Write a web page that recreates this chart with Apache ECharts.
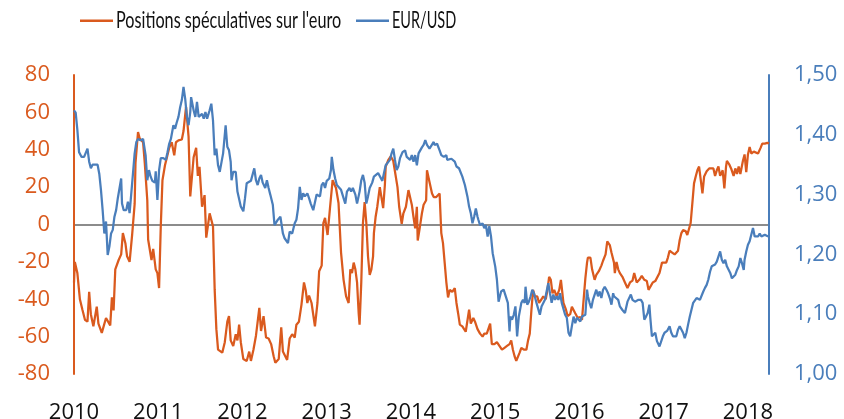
<!DOCTYPE html>
<html>
<head>
<meta charset="utf-8">
<script src="https://cdn.jsdelivr.net/npm/echarts@6/dist/echarts.min.js"></script>
<style>
  html, body { margin: 0; padding: 0; background: #ffffff; }
  #chart { width: 844px; height: 419px; }
</style>
</head>
<body>
<div id="chart"></div>
<script>
// Series names shown in the legend
const seriesNames = ["Positions spéculatives sur l'euro", "EUR/USD"];

// Time span of the horizontal axis, in fractional years
const yearStart = 2010;
const yearEnd = 2018.25;

// Left axis range (net speculative positions, thousands of contracts)
const positionsRange = [-80, 80, 20];
// Right axis range (EUR/USD rate)
const rateRange = [1.0, 1.5, 0.1];

// Net speculative positions on the euro: [year, value]
const positions = [
  [2010.00,-31],[2010.01,-20],[2010.04,-26],[2010.07,-40],[2010.10,-45.6],[2010.13,-51],[2010.16,-52],[2010.18,-36],
  [2010.20,-48],[2010.23,-54.5],[2010.27,-44],[2010.29,-53],[2010.33,-58],[2010.35,-59],[2010.38,-50],[2010.40,-51],
  [2010.43,-54],[2010.45,-39],[2010.47,-46],[2010.49,-24],[2010.53,-19],[2010.56,-16],[2010.58,-4.6],[2010.61,-10],
  [2010.63,-17],[2010.66,-20],[2010.69,-5.6],[2010.72,11],[2010.73,33],[2010.76,49.5],[2010.78,46],[2010.82,44],
  [2010.84,33],[2010.87,13],[2010.88,-8],[2010.90,-9],[2010.92,-19],[2010.94,-13],[2010.97,-24],[2010.99,-26],
  [2011.01,-34],[2011.03,-1],[2011.05,23.7],[2011.08,31.7],[2011.10,31],[2011.13,41],[2011.16,44],[2011.19,37],
  [2011.21,44],[2011.24,45],[2011.28,45.5],[2011.30,50],[2011.33,63],[2011.36,47],[2011.38,15],[2011.40,15.5],
  [2011.42,36],[2011.45,41],[2011.47,26],[2011.49,30.8],[2011.52,9.5],[2011.54,8.5],[2011.55,15.7],[2011.57,-7],
  [2011.61,6],[2011.65,-1],[2011.67,-35],[2011.69,-56],[2011.71,-67],[2011.76,-68.6],[2011.79,-63],[2011.82,-52],
  [2011.84,-49],[2011.86,-62],[2011.89,-65],[2011.92,-58.7],[2011.94,-62],[2011.96,-53.6],[2011.98,-63],[2012.01,-72],
  [2012.05,-73],[2012.08,-68],[2012.10,-73],[2012.13,-67],[2012.16,-59.5],[2012.18,-58.7],[2012.20,-44.6],[2012.22,-57],
  [2012.25,-49],[2012.28,-60.5],[2012.31,-61],[2012.34,-64],[2012.37,-70.5],[2012.39,-74],[2012.43,-72],[2012.46,-55],
  [2012.48,-68],[2012.50,-69],[2012.53,-72.5],[2012.56,-61],[2012.59,-58.7],[2012.62,-60.5],[2012.64,-53.6],[2012.67,-52],
  [2012.70,-43],[2012.73,-31],[2012.75,-35],[2012.77,-42],[2012.79,-38],[2012.82,-42],[2012.84,-43],[2012.86,-54.5],
  [2012.89,-42],[2012.91,-25],[2012.94,-22],[2012.96,0.8],[2012.98,3.5],[2013.01,-5.6],[2013.04,9.5],[2013.07,23.7],
  [2013.08,24.5],[2013.11,19.5],[2013.14,11.5],[2013.17,-15],[2013.20,-29.6],[2013.23,-38.5],[2013.26,-42],[2013.28,-24],
  [2013.30,-26],[2013.32,-20.4],[2013.34,-24],[2013.36,-31],[2013.38,-48],[2013.39,-53.6],[2013.41,-31],[2013.43,0.8],
  [2013.45,12],[2013.47,0.8],[2013.49,-17],[2013.51,-27],[2013.53,-24],[2013.55,-17],[2013.56,-4.6],[2013.58,4],
  [2013.60,9.5],[2013.63,20],[2013.65,21],[2013.67,8.8],[2013.69,21],[2013.70,31],[2013.73,34.4],[2013.76,36.5],
  [2013.79,34],[2013.81,35],[2013.84,20],[2013.86,9.5],[2013.89,0.3],[2013.91,6],[2013.94,9.5],[2013.97,18.4],
  [2013.99,17.5],[2014.01,10.6],[2014.03,4],[2014.05,-2],[2014.07,9.5],[2014.08,-8.6],[2014.10,-3],[2014.13,6],
  [2014.15,10.6],[2014.18,13],[2014.19,29],[2014.22,22.8],[2014.25,16.6],[2014.27,14.7],[2014.30,14.7],[2014.34,16.6],
  [2014.36,-4.6],[2014.38,-10],[2014.40,-20.4],[2014.42,-31],[2014.44,-39],[2014.46,-35],[2014.49,-36],[2014.52,-34],
  [2014.54,-42],[2014.56,-47.6],[2014.58,-53.6],[2014.61,-54.5],[2014.63,-55.5],[2014.65,-57.4],[2014.67,-56.5],[2014.69,-45.6],
  [2014.71,-53],[2014.74,-50],[2014.76,-52],[2014.79,-56],[2014.82,-58.4],[2014.85,-60],[2014.87,-58.4],[2014.90,-58.4],
  [2014.92,-57.4],[2014.94,-53],[2014.96,-64],[2014.99,-64],[2015.02,-63],[2015.04,-64],[2015.08,-67],[2015.11,-66],
  [2015.14,-65],[2015.17,-64],[2015.19,-62],[2015.21,-67],[2015.23,-70.5],[2015.25,-73],[2015.27,-73],[2015.29,-68.6],
  [2015.31,-66],[2015.34,-67],[2015.37,-67],[2015.39,-62],[2015.41,-58.4],[2015.43,-45.6],[2015.45,-35],[2015.47,-38.5],
  [2015.50,-38.5],[2015.52,-42],[2015.55,-40],[2015.57,-38.5],[2015.60,-40],[2015.62,-35],[2015.64,-28],[2015.66,-29.6],
  [2015.68,-36.8],[2015.70,-35],[2015.73,-38.5],[2015.76,-35],[2015.78,-29.6],[2015.79,-28.8],[2015.81,-42],[2015.84,-45.6],
  [2015.86,-49],[2015.89,-48],[2015.91,-44],[2015.95,-47.5],[2015.98,-50],[2016.01,-49.5],[2016.03,-51],[2016.05,-50],
  [2016.07,-28.8],[2016.09,-20.4],[2016.10,-17.7],[2016.13,-17.7],[2016.15,-24],[2016.18,-29.6],[2016.20,-27],[2016.23,-25],
  [2016.26,-22],[2016.28,-19.4],[2016.31,-16],[2016.33,-9],[2016.36,-11],[2016.38,-15],[2016.41,-20.4],[2016.42,-26],
  [2016.44,-20],[2016.46,-24],[2016.48,-26],[2016.51,-28],[2016.54,-31],[2016.57,-34],[2016.60,-31],[2016.63,-30],
  [2016.65,-26],[2016.68,-31],[2016.71,-29.6],[2016.74,-27.5],[2016.77,-29.6],[2016.80,-30.3],[2016.82,-35],[2016.84,-34],
  [2016.87,-31],[2016.90,-30.3],[2016.92,-31],[2016.95,-26],[2016.98,-20.4],[2017.00,-19.4],[2017.03,-20.4],[2017.05,-17.7],
  [2017.07,-14],[2017.10,-15],[2017.13,-16],[2017.15,-17],[2017.17,-14],[2017.19,-8.3],[2017.21,-4.6],[2017.23,-3],
  [2017.26,-3.5],[2017.28,-5.6],[2017.30,-5.6],[2017.32,0.8],[2017.34,11.3],[2017.36,22],[2017.38,25.7],[2017.40,29],
  [2017.42,31],[2017.44,31],[2017.46,16.6],[2017.48,25.7],[2017.51,28.5],[2017.54,30],[2017.56,29],[2017.59,30],
  [2017.61,26],[2017.63,29],[2017.65,31],[2017.67,26],[2017.70,29],[2017.72,19.3],[2017.74,31],[2017.75,34],
  [2017.78,32],[2017.80,30],[2017.83,26],[2017.85,30],[2017.87,27],[2017.89,31],[2017.91,27],[2017.94,34],
  [2017.96,37.5],[2017.98,28],[2018.00,37.5],[2018.02,41.5],[2018.04,38],[2018.07,39],[2018.09,40],[2018.12,38],
  [2018.15,41],[2018.17,43.3],[2018.20,43.3],[2018.23,43.7],[2018.25,43.3]
];

// EUR/USD exchange rate: [year, value]
const eurUsd = [
  [2010.00,1.441],[2010.02,1.437],[2010.04,1.408],[2010.06,1.371],[2010.09,1.363],[2010.12,1.363],[2010.14,1.361],[2010.16,1.377],
  [2010.18,1.355],[2010.20,1.344],[2010.22,1.35],[2010.25,1.35],[2010.28,1.35],[2010.30,1.335],[2010.32,1.308],[2010.34,1.274],
  [2010.36,1.235],[2010.38,1.255],[2010.40,1.199],[2010.42,1.213],[2010.44,1.235],[2010.46,1.241],[2010.48,1.263],[2010.50,1.274],
  [2010.52,1.294],[2010.54,1.297],[2010.56,1.327],[2010.57,1.285],[2010.59,1.274],[2010.62,1.274],[2010.64,1.288],[2010.66,1.269],
  [2010.68,1.302],[2010.70,1.335],[2010.72,1.369],[2010.74,1.388],[2010.76,1.393],[2010.79,1.391],[2010.82,1.393],[2010.85,1.366],
  [2010.87,1.324],[2010.89,1.341],[2010.91,1.33],[2010.93,1.323],[2010.96,1.32],[2010.97,1.339],[2010.99,1.291],[2011.01,1.341],
  [2011.03,1.361],[2011.06,1.361],[2011.09,1.358],[2011.11,1.371],[2011.13,1.385],[2011.15,1.393],[2011.18,1.416],[2011.20,1.41],
  [2011.22,1.421],[2011.24,1.43],[2011.26,1.446],[2011.28,1.458],[2011.30,1.48],[2011.32,1.46],[2011.34,1.43],[2011.36,1.416],
  [2011.38,1.438],[2011.39,1.463],[2011.42,1.441],[2011.44,1.43],[2011.46,1.455],[2011.48,1.43],[2011.50,1.427],[2011.52,1.435],
  [2011.54,1.427],[2011.56,1.438],[2011.58,1.427],[2011.61,1.441],[2011.63,1.452],[2011.65,1.424],[2011.67,1.366],[2011.69,1.377],
  [2011.71,1.349],[2011.73,1.338],[2011.75,1.338],[2011.77,1.369],[2011.80,1.416],[2011.82,1.38],[2011.84,1.374],[2011.86,1.355],
  [2011.87,1.324],[2011.89,1.338],[2011.92,1.338],[2011.94,1.305],[2011.96,1.302],[2011.98,1.28],[2012.01,1.272],[2012.03,1.294],
  [2012.05,1.319],[2012.07,1.316],[2012.10,1.323],[2012.12,1.32],[2012.14,1.344],[2012.16,1.324],[2012.18,1.316],[2012.20,1.327],
  [2012.22,1.333],[2012.24,1.32],[2012.27,1.311],[2012.29,1.324],[2012.31,1.311],[2012.33,1.3],[2012.36,1.283],[2012.38,1.249],
  [2012.40,1.247],[2012.42,1.258],[2012.45,1.263],[2012.46,1.266],[2012.48,1.235],[2012.50,1.227],[2012.52,1.224],[2012.54,1.219],
  [2012.56,1.238],[2012.59,1.235],[2012.62,1.252],[2012.64,1.258],[2012.66,1.277],[2012.68,1.313],[2012.70,1.291],[2012.72,1.302],
  [2012.74,1.297],[2012.77,1.302],[2012.79,1.294],[2012.81,1.285],[2012.84,1.274],[2012.86,1.274],[2012.88,1.3],[2012.90,1.3],
  [2012.92,1.297],[2012.94,1.316],[2012.96,1.32],[2012.98,1.311],[2013.00,1.323],[2013.03,1.327],[2013.05,1.341],[2013.06,1.363],
  [2013.08,1.341],[2013.10,1.327],[2013.12,1.316],[2013.14,1.316],[2013.17,1.308],[2013.19,1.305],[2013.22,1.285],[2013.24,1.305],
  [2013.27,1.311],[2013.29,1.305],[2013.31,1.311],[2013.34,1.3],[2013.36,1.285],[2013.39,1.305],[2013.41,1.324],[2013.43,1.333],
  [2013.45,1.32],[2013.47,1.285],[2013.49,1.297],[2013.51,1.311],[2013.54,1.32],[2013.56,1.33],[2013.58,1.333],[2013.61,1.336],
  [2013.63,1.336],[2013.66,1.323],[2013.68,1.32],[2013.70,1.349],[2013.72,1.352],[2013.75,1.358],[2013.77,1.369],[2013.79,1.377],
  [2013.81,1.358],[2013.83,1.341],[2013.85,1.347],[2013.87,1.361],[2013.90,1.371],[2013.93,1.374],[2013.95,1.363],[2013.97,1.366],
  [2013.99,1.358],[2014.01,1.366],[2014.03,1.355],[2014.05,1.366],[2014.07,1.349],[2014.09,1.369],[2014.11,1.374],[2014.13,1.379],
  [2014.15,1.383],[2014.17,1.391],[2014.19,1.383],[2014.22,1.377],[2014.24,1.374],[2014.27,1.388],[2014.28,1.383],[2014.31,1.385],
  [2014.34,1.374],[2014.36,1.366],[2014.39,1.363],[2014.42,1.366],[2014.43,1.358],[2014.45,1.361],[2014.48,1.36],[2014.50,1.361],
  [2014.52,1.355],[2014.54,1.347],[2014.57,1.344],[2014.59,1.341],[2014.61,1.33],[2014.64,1.316],[2014.67,1.297],[2014.69,1.28],
  [2014.71,1.269],[2014.73,1.252],[2014.75,1.263],[2014.77,1.277],[2014.79,1.263],[2014.80,1.258],[2014.82,1.249],[2014.85,1.252],
  [2014.87,1.244],[2014.89,1.249],[2014.91,1.23],[2014.93,1.247],[2014.95,1.23],[2014.97,1.202],[2015.00,1.18],[2015.02,1.158],
  [2015.04,1.121],[2015.07,1.138],[2015.10,1.141],[2015.12,1.138],[2015.15,1.119],[2015.17,1.071],[2015.18,1.096],[2015.20,1.091],
  [2015.22,1.099],[2015.24,1.113],[2015.26,1.063],[2015.28,1.096],[2015.31,1.119],[2015.33,1.124],[2015.35,1.119],[2015.36,1.146],
  [2015.38,1.116],[2015.40,1.121],[2015.42,1.13],[2015.44,1.141],[2015.46,1.135],[2015.49,1.119],[2015.51,1.116],[2015.53,1.099],
  [2015.55,1.113],[2015.57,1.116],[2015.59,1.124],[2015.61,1.138],[2015.63,1.152],[2015.65,1.135],[2015.67,1.119],[2015.69,1.133],
  [2015.71,1.124],[2015.73,1.13],[2015.75,1.124],[2015.77,1.135],[2015.79,1.119],[2015.81,1.116],[2015.83,1.099],[2015.85,1.094],
  [2015.87,1.069],[2015.89,1.063],[2015.91,1.08],[2015.93,1.096],[2015.95,1.085],[2015.97,1.094],[2015.99,1.094],[2016.01,1.088],
  [2016.03,1.096],[2016.05,1.094],[2016.07,1.099],[2016.09,1.141],[2016.10,1.13],[2016.12,1.119],[2016.14,1.11],[2016.16,1.124],
  [2016.18,1.127],[2016.20,1.141],[2016.22,1.13],[2016.24,1.138],[2016.26,1.127],[2016.28,1.141],[2016.30,1.146],[2016.32,1.141],
  [2016.34,1.135],[2016.36,1.127],[2016.38,1.116],[2016.40,1.135],[2016.41,1.13],[2016.43,1.127],[2016.46,1.124],[2016.48,1.113],
  [2016.51,1.107],[2016.54,1.102],[2016.57,1.121],[2016.59,1.119],[2016.61,1.133],[2016.63,1.124],[2016.66,1.121],[2016.68,1.119],
  [2016.70,1.124],[2016.73,1.124],[2016.75,1.119],[2016.77,1.091],[2016.79,1.096],[2016.81,1.102],[2016.83,1.116],[2016.84,1.096],
  [2016.86,1.063],[2016.88,1.066],[2016.90,1.069],[2016.92,1.055],[2016.95,1.046],[2016.97,1.049],[2016.99,1.063],[2017.01,1.069],
  [2017.04,1.072],[2017.07,1.08],[2017.09,1.069],[2017.11,1.063],[2017.13,1.06],[2017.15,1.063],[2017.17,1.074],[2017.19,1.08],
  [2017.21,1.083],[2017.23,1.069],[2017.25,1.06],[2017.27,1.069],[2017.29,1.083],[2017.31,1.096],[2017.33,1.099],[2017.35,1.119],
  [2017.37,1.121],[2017.39,1.127],[2017.41,1.13],[2017.43,1.124],[2017.45,1.124],[2017.47,1.138],[2017.49,1.144],[2017.51,1.149],
  [2017.53,1.158],[2017.55,1.171],[2017.57,1.18],[2017.59,1.18],[2017.61,1.183],[2017.63,1.188],[2017.65,1.191],[2017.67,1.205],
  [2017.69,1.191],[2017.71,1.185],[2017.73,1.191],[2017.75,1.18],[2017.77,1.177],[2017.79,1.169],[2017.81,1.16],[2017.83,1.16],
  [2017.85,1.166],[2017.87,1.174],[2017.89,1.18],[2017.91,1.194],[2017.93,1.185],[2017.95,1.174],[2017.96,1.191],[2017.98,1.205],
  [2018.00,1.216],[2018.02,1.222],[2018.04,1.224],[2018.06,1.244],[2018.08,1.23],[2018.10,1.233],[2018.12,1.23],[2018.14,1.235],
  [2018.16,1.23],[2018.18,1.233],[2018.20,1.233],[2018.22,1.233],[2018.24,1.23]
];

const ORANGE = '#DA5A1E';
const BLUE = '#4A7EBB';
const ZERO_LINE = '#8C8C8C';
const TICK_FONT = "'Open Sans', 'Liberation Sans', sans-serif";
const LEGEND_FONT = "23px Lato, 'Open Sans', sans-serif";

// Only the 0 line of the left axis is drawn as a horizontal rule
const leftTickCount = Math.round((positionsRange[1] - positionsRange[0]) / positionsRange[2]) + 1;
const zeroIndex = Math.round((0 - positionsRange[0]) / positionsRange[2]);
const splitColors = [];
for (let i = 0; i < leftTickCount; i++) {
  splitColors.push(i === zeroIndex ? ZERO_LINE : 'rgba(0,0,0,0)');
}

// Legend drawn as line swatches plus horizontally condensed labels
function legendEntry(lineX, color, name, squeeze) {
  return [
    { type: 'rect', shape: { x: lineX, y: 19.5, width: 33, height: 2.5 }, style: { fill: color }, silent: true },
    {
      type: 'text', x: lineX + 36, y: 21, scaleX: squeeze, silent: true,
      style: { text: name, font: LEGEND_FONT, fill: '#111111', textAlign: 'left', textVerticalAlign: 'middle' }
    }
  ];
}

const chart = echarts.init(document.getElementById('chart'), null, { renderer: 'canvas' });
chart.setOption({
  animation: false,
  backgroundColor: '#ffffff',
  grid: { left: 74, right: 75, top: 75, bottom: 45, outerBoundsMode: 'none', containLabel: false },
  graphic: [].concat(
    legendEntry(80, ORANGE, seriesNames[0], 0.705),
    legendEntry(356, BLUE, seriesNames[1], 0.63)
  ),
  xAxis: {
    type: 'value',
    min: yearStart,
    max: yearEnd,
    interval: 1,
    axisLine: { show: false, onZero: false },
    axisTick: { show: false },
    splitLine: { show: false },
    axisLabel: {
      color: '#111111',
      fontFamily: TICK_FONT,
      fontSize: 22,
      margin: 28,
      showMaxLabel: false,
      formatter: v => (Number.isInteger(v) ? String(v) : '')
    }
  },
  yAxis: [
    {
      type: 'value',
      min: positionsRange[0],
      max: positionsRange[1],
      interval: positionsRange[2],
      axisLine: { show: true, lineStyle: { color: ORANGE, width: 2 } },
      axisTick: { show: false },
      splitLine: { show: true, lineStyle: { color: splitColors, width: 2 } },
      axisLabel: { color: ORANGE, fontFamily: TICK_FONT, fontSize: 22, margin: 24 }
    },
    {
      type: 'value',
      position: 'right',
      min: rateRange[0],
      max: rateRange[1],
      interval: rateRange[2],
      axisLine: { show: true, lineStyle: { color: BLUE, width: 2 } },
      axisTick: { show: false },
      splitLine: { show: false },
      axisLabel: {
        color: BLUE,
        fontFamily: TICK_FONT,
        fontSize: 22,
        margin: 25,
        formatter: v => v.toFixed(2).replace('.', ',')
      }
    }
  ],
  series: [
    {
      name: seriesNames[0],
      type: 'line',
      yAxisIndex: 0,
      data: positions,
      symbol: 'none',
      lineStyle: { color: ORANGE, width: 2.25 },
      itemStyle: { color: ORANGE }
    },
    {
      name: seriesNames[1],
      type: 'line',
      yAxisIndex: 1,
      data: eurUsd,
      symbol: 'none',
      lineStyle: { color: BLUE, width: 2.25 },
      itemStyle: { color: BLUE }
    }
  ]
});
</script>
</body>
</html>
